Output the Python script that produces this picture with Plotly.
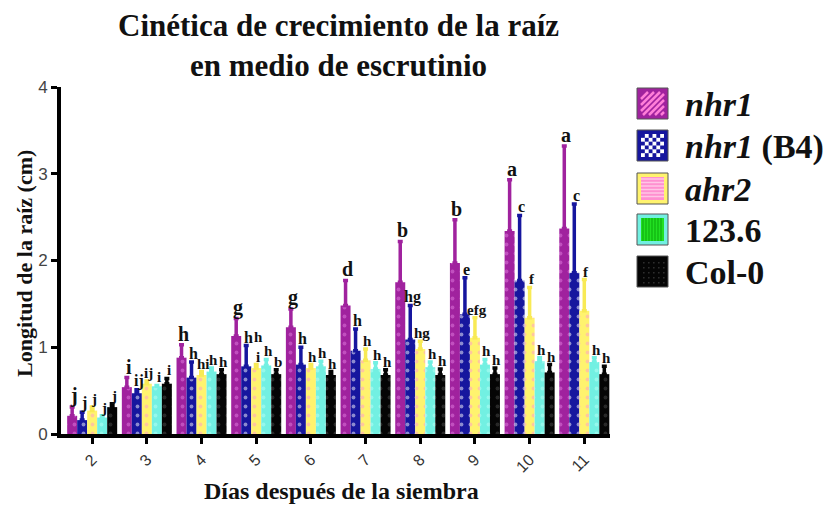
import plotly.graph_objects as go

# ---------------- data ----------------
days = ["2", "3", "4", "5", "6", "7", "8", "9", "10", "11"]

series_names = ["nhr1", "nhr1 (B4)", "ahr2", "123.6", "Col-0"]

nhr1 = [0.21, 0.54, 0.88, 1.13, 1.23, 1.48, 1.75, 1.97, 2.34, 2.37]
nhr1_err = [0.10, 0.11, 0.15, 0.20, 0.21, 0.29, 0.47, 0.50, 0.59, 0.95]

nhr1_b4 = [0.16, 0.47, 0.65, 0.78, 0.80, 0.96, 1.09, 1.38, 1.77, 1.86]
nhr1_b4_err = [0.09, 0.04, 0.18, 0.24, 0.20, 0.25, 0.39, 0.42, 0.75, 0.79]

ahr2 = [0.27, 0.58, 0.68, 0.76, 0.76, 0.85, 0.98, 1.11, 1.34, 1.42]
ahr2_err = [0.04, 0.03, 0.04, 0.04, 0.04, 0.13, 0.09, 0.23, 0.35, 0.36]

l1236 = [0.19, 0.55, 0.72, 0.79, 0.78, 0.75, 0.77, 0.80, 0.84, 0.83]
l1236_err = [0.02, 0.01, 0.04, 0.07, 0.06, 0.07, 0.06, 0.06, 0.04, 0.05]

col0 = [0.31, 0.58, 0.69, 0.69, 0.68, 0.68, 0.68, 0.69, 0.71, 0.69]
col0_err = [0.04, 0.06, 0.05, 0.05, 0.04, 0.06, 0.07, 0.07, 0.09, 0.09]

lab_nhr1 = ["j", "i", "h", "g", "g", "d", "b", "b", "a", "a"]
lab_b4 = ["j", "ij", "h", "h", "h", "h", "hg", "e", "c", "c"]
lab_ahr2 = ["j", "ij", "hi", "h<br>i", "h", "h", "hg", "efg", "f", "f"]
lab_1236 = ["j", "i", "h", "h", "h", "h", "h", "h", "h", "h"]
lab_col0 = ["j", "i", "h", "b", "h", "h", "h", "h", "h", "h"]

values = [nhr1, nhr1_b4, ahr2, l1236, col0]
errors = [nhr1_err, nhr1_b4_err, ahr2_err, l1236_err, col0_err]
labels = [lab_nhr1, lab_b4, lab_ahr2, lab_1236, lab_col0]

# ---------------- styles ----------------
colors = ["#A0229E", "#16169E", "#FFF36E", "#72F0E2", "#050505"]
pat_colors = ["#E27BE0", "#FFFFFF", "#FF9CCB", "#B8FFF6", "#4A4A4A"]
err_colors = ["#A0229E", "#16169E", "#F8EA55", "#72F0E2", "#050505"]
label_sizes = [20, 16, 15, 15, 15]

# plot area in pixels
W, H = 833, 505
L, R, T, B = 61, 610, 87, 434


def px(x):
    return (x - L) / (R - L)


def py(y):
    return (B - y) / (B - T)


SERIF = "Liberation Serif"

fig = go.Figure()
for i, name in enumerate(series_names):
    fig.add_trace(go.Bar(
        x=days, y=values[i], name=name, showlegend=False,
        marker=dict(color=colors[i], line=dict(width=0),
                    pattern=dict(shape=".", size=9, solidity=0.14,
                                 fgcolor=pat_colors[i], fillmode="overlay")),
        error_y=dict(type="data", array=errors[i],
                     arrayminus=[0] * len(days), symmetric=False,
                     color=err_colors[i], thickness=3.5, width=2.5),
    ))

annotations = []
bar_px = 10.0
for i in range(5):
    off = (i - 2) * bar_px
    for j in range(len(days)):
        annotations.append(dict(
            x=j, y=values[i][j] + errors[i][j], xref="x", yref="y",
            text="<b>" + labels[i][j] + "</b>", showarrow=False,
            xshift=off + 2, yshift=-2, yanchor="bottom", xanchor="center",
            font=dict(family=SERIF, size=label_sizes[i], color="#111"),
        ))

# title
annotations.append(dict(
    x=px(338), y=py(46), xref="paper", yref="paper",
    text="<b>Cinética de crecimiento de la raíz<br>en medio de escrutinio</b>",
    showarrow=False, xanchor="center", yanchor="middle",
    font=dict(family=SERIF, size=31, color="#111"),
))
# axis titles
annotations.append(dict(
    x=px(24), y=py(264), xref="paper", yref="paper",
    text="<b>Longitud de la raíz (cm)</b>", textangle=-90,
    showarrow=False, xanchor="center", yanchor="middle",
    font=dict(family=SERIF, size=22, color="#111"),
))
annotations.append(dict(
    x=px(341), y=py(491), xref="paper", yref="paper",
    text="<b>Días después de la siembra</b>",
    showarrow=False, xanchor="center", yanchor="middle",
    font=dict(family=SERIF, size=24, color="#111"),
))

# legend (drawn manually with big swatches)
legend_text = ["<b><i>nhr1</i></b>", "<b><i>nhr1</i> (B4)</b>", "<b><i>ahr2</i></b>",
               "<b>123.6</b>", "<b>Col-0</b>"]
sw_x0, sw_x1 = 637, 668
sw_tops = [88, 130, 173, 214, 256]
sw_h = 31
shapes = []


def rect(x0, y0, x1, y1, fill, line_color=None, lw=0):
    shapes.append(dict(type="rect", xref="paper", yref="paper",
                       x0=px(x0), x1=px(x1), y0=py(y1), y1=py(y0),
                       fillcolor=fill,
                       line=dict(width=lw, color=line_color or fill)))


def seg(x0, y0, x1, y1, color, w):
    shapes.append(dict(type="line", xref="paper", yref="paper",
                       x0=px(x0), x1=px(x1), y0=py(y0), y1=py(y1),
                       line=dict(color=color, width=w)))


for k in range(5):
    t = sw_tops[k]
    b = t + sw_h
    rect(sw_x0, t, sw_x1, b, colors[k], "#555", 1)
    ix0, iy0, ix1, iy1 = sw_x0 + 4, t + 4, sw_x1 - 4, b - 4
    if k == 0:
        for s in range(-16, 24, 6):
            xa, ya = ix0 + s, iy1
            xb, yb = ix0 + s + (iy1 - iy0), iy0
            if xa < ix0:
                ya -= (ix0 - xa); xa = ix0
            if xb > ix1:
                yb += (xb - ix1); xb = ix1
            if xa < xb:
                seg(xa, ya, xb, yb, "#FF7ED8", 2.5)
    elif k == 1:
        n = 6
        cw = (ix1 - ix0) / n
        ch = (iy1 - iy0) / n
        rect(ix0, iy0, ix1, iy1, "#FFFFFF")
        for r in range(n):
            for c in range(n):
                if (r + c) % 2 == 0:
                    rect(ix0 + c * cw, iy0 + r * ch, ix0 + (c + 1) * cw,
                         iy0 + (r + 1) * ch, colors[1])
    elif k == 2:
        rect(ix0, iy0, ix1, iy1, "#FF8FD0")
        yy = iy0 + 2
        while yy < iy1:
            seg(ix0, yy, ix1, yy, "#FFC6E6", 1.5)
            yy += 3.5
    elif k == 3:
        rect(ix0, iy0, ix1, iy1, "#22E022")
        xx = ix0 + 2
        while xx < ix1:
            seg(xx, iy0, xx, iy1, "#10B010", 1.2)
            xx += 3
    else:
        for r in range(5):
            for c in range(5):
                cx = ix0 + 2 + c * 5
                cy = iy0 + 2 + r * 5
                rect(cx, cy, cx + 1.6, cy + 1.6, "#2E2E2E")
    annotations.append(dict(
        x=px(683), y=py(t + sw_h / 2 + 1), xref="paper", yref="paper",
        text=legend_text[k], showarrow=False, xanchor="left", yanchor="middle",
        font=dict(family=SERIF, size=34, color="#111"),
    ))

fig.update_layout(
    width=W, height=H,
    margin=dict(l=L, r=W - R, t=T, b=H - B, pad=0),
    paper_bgcolor="white", plot_bgcolor="white",
    barmode="group", bargap=0.085, bargroupgap=0.0,
    showlegend=False,
    annotations=annotations, shapes=shapes,
    xaxis=dict(type="category", categoryorder="array", categoryarray=days,
               range=[-0.57, 9.47], showline=True, linewidth=4, linecolor="black",
               ticks="outside", ticklen=6, tickwidth=3, tickcolor="black",
               tickangle=-45, tickfont=dict(family="Liberation Sans", size=16, color="#333"),
               showgrid=False, zeroline=False, automargin=False),
    yaxis=dict(range=[0, 4], dtick=1, showline=True, linewidth=4, linecolor="black",
               ticks="outside", ticklen=6, tickwidth=3, tickcolor="black",
               tickfont=dict(family="Liberation Sans", size=17, color="#444"),
               showgrid=False, zeroline=False, automargin=False),
)

fig.write_html("out.html", config={"displayModeBar": False},
               post_script="document.body.style.margin='0';document.body.style.padding='0';")
